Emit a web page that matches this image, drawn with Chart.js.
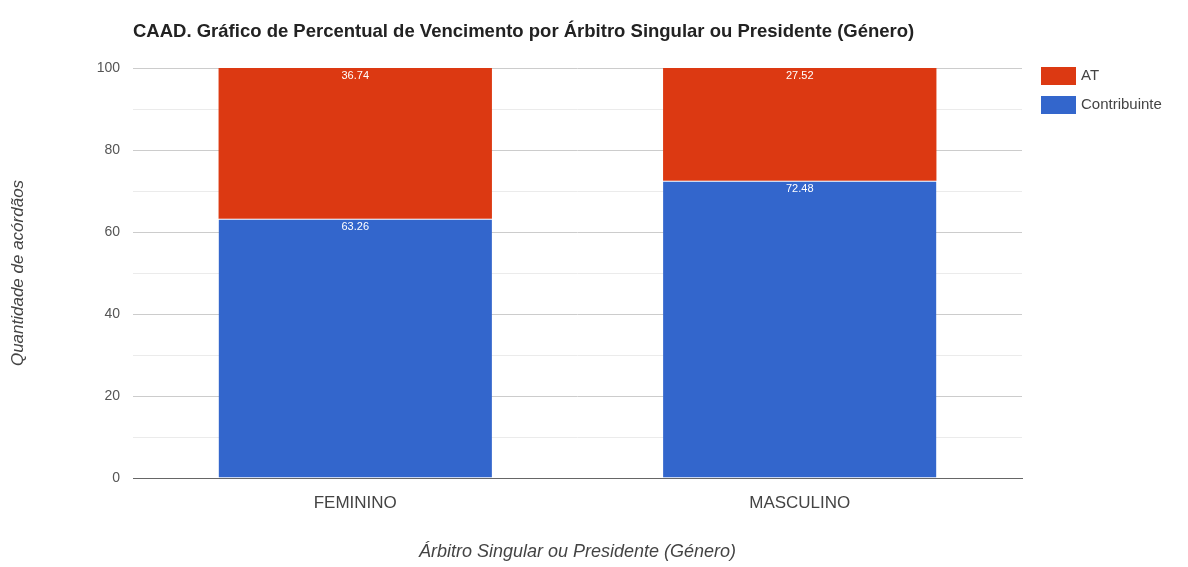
<!DOCTYPE html>
<html lang="pt">
<head>
<meta charset="UTF-8">
<title>CAAD - Percentual de Vencimento</title>
<script src="https://cdn.jsdelivr.net/npm/chart.js"></script>
<style>
    html, body { margin: 0; padding: 0; background: #fff; }
    #wrap { width: 1188px; height: 567px; }
</style>
</head>
<body>
<div id="wrap"><canvas id="grafico" width="1188" height="567"></canvas></div>
<script>
const generos = ['FEMININO', 'MASCULINO'];
const contribuinte = [63.26, 72.48];
const at = [36.74, 27.52];
const ticksY = [0, 20, 40, 60, 80, 100];

const titulo = 'CAAD. Gráfico de Percentual de Vencimento por Árbitro Singular ou Presidente (Género)';
const fonte = 'Arial, "Liberation Sans", sans-serif';

// valores em branco no topo de cada segmento
const rotulos = {
    id: 'rotulos',
    afterDatasetsDraw(chart) {
        const ctx = chart.ctx;
        ctx.save();
        ctx.fillStyle = '#fff';
        ctx.font = '11px ' + fonte;
        ctx.textAlign = 'center';
        ctx.textBaseline = 'middle';
        chart.data.datasets.forEach((ds, i) => {
            chart.getDatasetMeta(i).data.forEach((bar, j) => {
                ctx.fillText(ds.data[j].toFixed(2), bar.x, bar.y + 8);
            });
        });
        ctx.restore();
    }
};

// titulo alinhado com a área do gráfico e legenda à direita
const extras = {
    id: 'extras',
    afterDraw(chart) {
        const ctx = chart.ctx;
        const area = chart.chartArea;
        ctx.save();
        ctx.fillStyle = '#222';
        ctx.font = 'bold 18.5px ' + fonte;
        ctx.textBaseline = 'middle';
        ctx.fillText(titulo, area.left, 32);

        // ordem da legenda: AT primeiro
        const ordem = [1, 0];
        ctx.font = '15px ' + fonte;
        ordem.forEach((i, k) => {
            const ds = chart.data.datasets[i];
            const y = 76 + k * 29;
            ctx.fillStyle = ds.backgroundColor;
            ctx.fillRect(1041, y - 9, 35, 18);
            ctx.fillStyle = '#444';
            ctx.fillText(ds.label, 1081, y);
        });
        ctx.restore();
    }
};

new Chart(document.getElementById('grafico'), {
    type: 'bar',
    data: {
        labels: generos,
        datasets: [
            {
                label: 'Contribuinte',
                data: contribuinte,
                backgroundColor: '#3366cc',
                borderColor: 'rgba(255,255,255,0.85)',
                borderWidth: { top: 1, left: 0, right: 0, bottom: 0 },
                borderSkipped: false,
                barPercentage: 0.615,
                categoryPercentage: 1
            },
            {
                label: 'AT',
                data: at,
                backgroundColor: '#dc3912',
                borderWidth: 0,
                barPercentage: 0.615,
                categoryPercentage: 1
            }
        ]
    },
    options: {
        responsive: false,
        animation: false,
        layout: { padding: { top: 68, right: 166, left: 0, bottom: 0 } },
        plugins: {
            legend: { display: false },
            tooltip: { enabled: false }
        },
        scales: {
            x: {
                stacked: true,
                grid: { display: false, drawTicks: false },
                border: { color: '#666', width: 1 },
                ticks: { color: '#444', font: { family: fonte, size: 17 }, padding: 15 },
                title: {
                    display: true,
                    text: 'Árbitro Singular ou Presidente (Género)',
                    color: '#444',
                    font: { family: fonte, size: 18, style: 'italic' },
                    padding: { top: 0, bottom: 4 }
                },
                afterFit(scale) { scale.height = 89; }
            },
            y: {
                stacked: true,
                min: 0,
                max: 100,
                ticks: {
                    stepSize: 10,
                    color: '#555',
                    font: { family: fonte, size: 14 },
                    padding: 13,
                    callback: v => ticksY.includes(v) ? v : ''
                },
                grid: {
                    drawTicks: false,
                    color: ctx => ticksY.includes(ctx.tick.value) ? '#cccccc' : '#ebebeb'
                },
                border: { display: false },
                title: {
                    display: true,
                    text: 'Quantidade de acórdãos',
                    color: '#444',
                    font: { family: fonte, size: 17, style: 'italic' },
                    padding: { top: 8, bottom: 0 }
                },
                afterFit(scale) { scale.width = 133; }
            }
        }
    },
    plugins: [rotulos, extras]
});
</script>
</body>
</html>
